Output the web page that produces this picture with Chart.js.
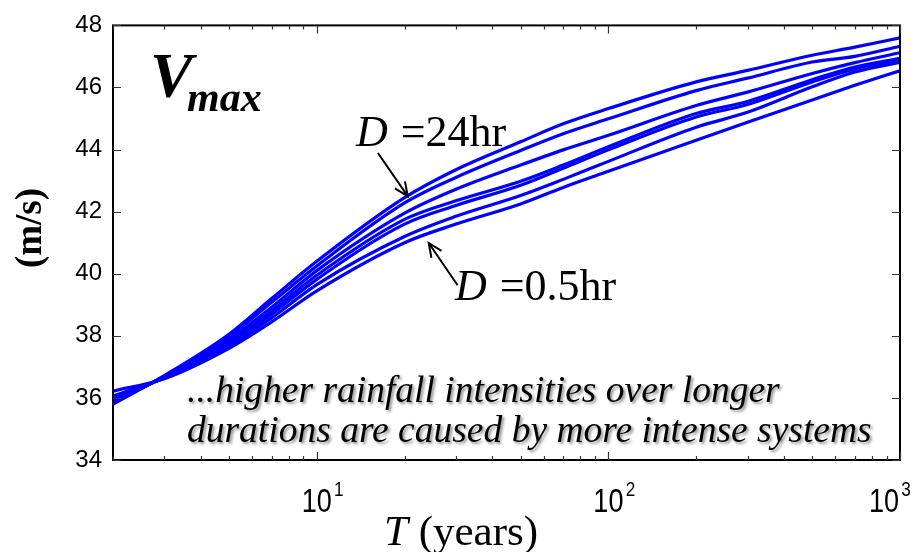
<!DOCTYPE html>
<html>
<head>
<meta charset="utf-8">
<script src="https://cdn.jsdelivr.net/npm/chart.js@4.4.1/dist/chart.umd.min.js"></script>
<style>
  html, body { margin: 0; padding: 0; background: #fff; }
</style>
</head>
<body>
<canvas id="vmax" width="917" height="552"></canvas>
<script>
// return period T (years)
const periods = [2, 3, 5, 7, 10, 20, 30, 50, 70, 100, 200, 300, 500, 700, 1000];

// Vmax (m/s) for each storm duration D
const vmax24hr = [35.80, 36.72, 38.05, 39.20, 40.40, 42.45, 43.35, 44.25, 44.83, 45.32, 46.18, 46.55, 47.04, 47.30, 47.60];
const vmax12hr = [35.85, 36.70, 37.98, 39.08, 40.25, 42.28, 43.10, 43.97, 44.51, 44.99, 45.90, 46.30, 46.82, 47.00, 47.33];
const vmax6hr  = [35.88, 36.68, 37.88, 38.92, 40.10, 41.95, 42.72, 43.50, 43.99, 44.46, 45.42, 45.85, 46.45, 46.80, 47.12];
const vmax3hr  = [35.92, 36.67, 37.80, 38.80, 39.95, 41.75, 42.35, 42.98, 43.50, 44.09, 45.16, 45.55, 46.25, 46.66, 46.94];
const vmax2hr  = [35.97, 36.66, 37.74, 38.70, 39.82, 41.60, 42.20, 42.85, 43.40, 43.99, 45.05, 45.45, 46.18, 46.60, 46.89];
const vmax1hr  = [36.06, 36.64, 37.67, 38.58, 39.65, 41.20, 41.85, 42.52, 43.04, 43.62, 44.72, 45.20, 46.02, 46.50, 46.81];
const vmax05hr = [36.22, 36.62, 37.60, 38.45, 39.45, 41.00, 41.60, 42.25, 42.78, 43.30, 44.30, 44.88, 45.60, 46.07, 46.54];

const durations = ['24hr', '12hr', '6hr', '3hr', '2hr', '1hr', '0.5hr'];
const series = [vmax24hr, vmax12hr, vmax6hr, vmax3hr, vmax2hr, vmax1hr, vmax05hr];

// decade labels on the T axis (shown as 10^n)
const decadeExponents = [1, 2, 3];

const serif = '"Liberation Serif", "Times New Roman", serif';
const sans = '"Liberation Sans", Arial, sans-serif';

function arrow(ctx, x0, y0, x1, y1) {
  const a = Math.atan2(y1 - y0, x1 - x0);
  const len = 15, spread = 0.42;
  ctx.beginPath();
  ctx.moveTo(x0, y0);
  ctx.lineTo(x1, y1);
  ctx.moveTo(x1 - len * Math.cos(a - spread), y1 - len * Math.sin(a - spread));
  ctx.lineTo(x1, y1);
  ctx.lineTo(x1 - len * Math.cos(a + spread), y1 - len * Math.sin(a + spread));
  ctx.stroke();
}

const overlay = {
  id: 'overlay',
  afterDatasetsDraw(chart) {
    const { ctx, chartArea: ca, scales: { x, y } } = chart;
    ctx.save();

    // frame
    ctx.strokeStyle = '#000';
    ctx.lineWidth = 2;
    ctx.strokeRect(ca.left, ca.top, ca.right - ca.left, ca.bottom - ca.top);

    // inward ticks
    ctx.strokeStyle = '#333';
    ctx.lineWidth = 1.2;
    ctx.beginPath();
    y.ticks.forEach(t => {
      const py = Math.round(y.getPixelForValue(t.value)) + 0.5;
      ctx.moveTo(ca.left, py); ctx.lineTo(ca.left + 8, py);
      ctx.moveTo(ca.right, py); ctx.lineTo(ca.right - 8, py);
    });
    for (let d = 1; d <= 1000; d *= 10) {
      for (let m = 1; m <= 9; m++) {
        const v = d * m;
        if (v < x.min || v > x.max) continue;
        const px = Math.round(x.getPixelForValue(v)) + 0.5;
        const len = m === 1 ? 8 : 4;
        ctx.moveTo(px, ca.bottom); ctx.lineTo(px, ca.bottom - len);
        ctx.moveTo(px, ca.top); ctx.lineTo(px, ca.top + len);
      }
    }
    ctx.stroke();

    // decade labels 10^n, the last one pulled in to stay on the canvas
    ctx.fillStyle = '#000';
    decadeExponents.forEach(n => {
      const px = Math.min(x.getPixelForValue(Math.pow(10, n)), chart.width - 33);
      ctx.save();
      ctx.translate(px, ca.bottom + 52);
      ctx.scale(0.82, 1);
      ctx.font = '33px ' + sans;
      ctx.textAlign = 'center';
      ctx.textBaseline = 'alphabetic';
      ctx.fillText('10', 0, 0);
      ctx.font = '21px ' + sans;
      ctx.textAlign = 'left';
      ctx.fillText(String(n), 21, -16);
      ctx.restore();
    });

    // axis titles
    ctx.textAlign = 'left';
    ctx.textBaseline = 'alphabetic';
    ctx.font = 'italic 43px ' + serif;
    const tw = ctx.measureText('T').width;
    ctx.fillText('T', 384, 545);
    ctx.font = '43px ' + serif;
    ctx.fillText(' (years)', 384 + tw, 545);

    ctx.save();
    ctx.translate(41, 228);
    ctx.rotate(-Math.PI / 2);
    ctx.textAlign = 'center';
    ctx.font = 'bold 37px ' + serif;
    ctx.fillText('(m/s)', 0, 0);
    ctx.restore();

    // V_max heading
    ctx.textAlign = 'left';
    ctx.font = 'bold italic 64px ' + serif;
    ctx.fillText('V', 150, 97);
    ctx.font = 'bold italic 42px ' + serif;
    ctx.fillText('max', 187, 111);

    // duration labels with arrows
    const label = (name, lx, ly) => {
      ctx.font = 'italic 44px ' + serif;
      ctx.fillText('D', lx, ly);
      const dw = ctx.measureText('D ').width;
      ctx.font = '44px ' + serif;
      ctx.fillText('=' + name, lx + dw + 2, ly);
    };
    label(durations[0], 356, 146);
    label(durations[durations.length - 1], 455, 300);

    ctx.strokeStyle = '#000';
    ctx.lineWidth = 2;
    arrow(ctx, x.getPixelForValue(16.2), y.getPixelForValue(43.89),
               x.getPixelForValue(20.5), y.getPixelForValue(42.50));
    arrow(ctx, x.getPixelForValue(30.4), y.getPixelForValue(39.63),
               x.getPixelForValue(24.2), y.getPixelForValue(40.99));

    // caption with drop shadow
    ctx.save();
    ctx.shadowColor = 'rgba(0,0,0,0.45)';
    ctx.shadowBlur = 3;
    ctx.shadowOffsetX = 2;
    ctx.shadowOffsetY = 2;
    ctx.font = 'italic 37.5px ' + serif;
    ctx.fillText('...higher rainfall intensities over longer', 187, 402);
    ctx.fillText('durations are caused by more intense systems', 187, 442);
    ctx.restore();

    ctx.restore();
  }
};

new Chart(document.getElementById('vmax'), {
  type: 'line',
  data: {
    datasets: series.map((vals, i) => ({
      label: 'D = ' + durations[i],
      data: periods.map((t, k) => ({ x: t, y: vals[k] })),
      borderColor: '#0000ff',
      borderWidth: 3.2,
      pointRadius: 0,
      fill: false,
      cubicInterpolationMode: 'monotone'
    }))
  },
  options: {
    responsive: false,
    animation: false,
    layout: { padding: { top: 18, right: 17, left: 0, bottom: 0 } },
    plugins: { legend: { display: false }, tooltip: { enabled: false } },
    scales: {
      x: {
        type: 'logarithmic',
        min: 2,
        max: 1000,
        grid: { display: false },
        border: { display: false },
        ticks: { display: false },
        afterFit: s => { s.height = 92; }
      },
      y: {
        min: 34,
        max: 48,
        grid: { display: false, drawTicks: false },
        border: { display: false },
        ticks: {
          stepSize: 2,
          padding: 11,
          color: '#000',
          font: { family: sans, size: 24 }
        },
        afterFit: s => { s.width = 113; }
      }
    }
  },
  plugins: [overlay]
});
</script>
</body>
</html>
